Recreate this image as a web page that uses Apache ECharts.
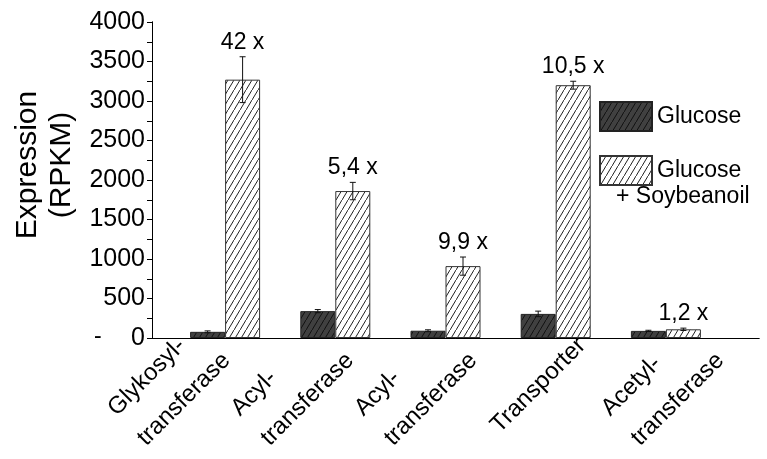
<!DOCTYPE html>
<html>
<head>
<meta charset="utf-8">
<script src="https://cdn.jsdelivr.net/npm/echarts@6/dist/echarts.min.js"></script>
<style>
  html, body { margin: 0; padding: 0; background: #fff; }
  #chart { width: 767px; height: 459px; }
</style>
</head>
<body>
<div id="chart"></div>
<script>
// data
var categories = ['Glykosyl-\ntransferase', 'Acyl-\ntransferase', 'Acyl-\ntransferase', 'Transporter', 'Acetyl-\ntransferase'];
var glucose = [78, 340, 92, 305, 90];
var glucoseErr = [12, 20, 12, 35, 8];
var soybean = [3270, 1860, 910, 3200, 110];
var soybeanErr = [290, 110, 115, 50, 15];
var foldLabels = ['42 x', '5,4 x', '9,9 x', '10,5 x', '1,2 x'];
var yMin = 0, yMax = 4000, yStep = 500;

var GLU = 'Glucose';
var SOY = 'Glucose + Soybeanoil';
var FONT = "'Liberation Sans', Arial, sans-serif";
var BAR_W = 35;
var LABEL_ROT = 45 * Math.PI / 180;
var LABEL_SIZE = 24, LABEL_LH = 42;

// diagonal hatch fill
function hatch(bg, fg) {
  var c = document.createElement('canvas');
  c.width = 6; c.height = 10;
  var ctx = c.getContext('2d');
  ctx.fillStyle = bg;
  ctx.fillRect(0, 0, 6, 10);
  ctx.strokeStyle = fg;
  ctx.lineWidth = 1;
  ctx.beginPath();
  ctx.moveTo(-1, 10 + 10 / 6);
  ctx.lineTo(7, -10 / 6);
  ctx.stroke();
  return c;
}

function errorSeries(name, values, errs, side) {
  return {
    type: 'custom',
    name: name + ' err',
    xAxisIndex: 2,
    yAxisIndex: 2,
    z: 5,
    silent: true,
    data: values.map(function (v, i) { return [i, v, errs[i]]; }),
    renderItem: function (params, api) {
      var i = api.value(0), v = api.value(1), e = api.value(2);
      var hi = api.coord([i, v + e]);
      var lo = api.coord([i, v - e]);
      var x = hi[0] + side * BAR_W / 2;
      var ls = { stroke: '#111', lineWidth: 1 };
      var kids = [
        { type: 'line', shape: { x1: x, y1: hi[1], x2: x, y2: lo[1] }, style: ls },
        { type: 'line', shape: { x1: x - 3, y1: hi[1], x2: x + 3, y2: hi[1] }, style: ls },
        { type: 'line', shape: { x1: x - 3, y1: lo[1], x2: x + 3, y2: lo[1] }, style: ls }
      ];
      if (side > 0) {
        kids.push({
          type: 'text',
          style: {
            text: foldLabels[params.dataIndex],
            x: x, y: hi[1] - 3,
            align: 'center', verticalAlign: 'bottom',
            fontSize: 23, fontFamily: FONT, fill: '#000'
          }
        });
      }
      return { type: 'group', children: kids };
    }
  };
}

var chart = echarts.init(document.getElementById('chart'));

var frameAxis = {
  gridIndex: 0, type: 'value', min: 0, max: 1,
  axisLine: { show: true, lineStyle: { color: '#000', width: 1 } },
  axisTick: { show: false }, axisLabel: { show: false }, splitLine: { show: false }
};

chart.setOption({
  animation: false,
  textStyle: { fontFamily: FONT },
  grid: [
    { left: 152, right: 8, top: 22, bottom: 121 },   // frame
    { left: 170, right: 46, top: 22, bottom: 121 },  // bars
    { left: 150, right: -55, top: 22, bottom: 121 }  // category label slots
  ],
  xAxis: [
    Object.assign({}, frameAxis, { position: 'bottom' }),
    Object.assign({}, frameAxis, { position: 'top' }),
    { gridIndex: 1, type: 'category', data: categories, show: false },
    { gridIndex: 2, type: 'category', data: categories, show: false }
  ],
  yAxis: [
    {
      gridIndex: 0, type: 'value', min: yMin, max: yMax, interval: yStep,
      axisLine: { show: true, lineStyle: { color: '#000' } },
      axisTick: { show: true, length: 5, lineStyle: { color: '#000' } },
      minorTick: { show: true, splitNumber: 2, length: 3, lineStyle: { color: '#000' } },
      splitLine: { show: false },
      axisLabel: { fontSize: 25, color: '#000', margin: 7, formatter: function (v) { return String(v); } },
      name: 'Expression\n(RPKM)',
      nameLocation: 'middle',
      nameGap: 67,
      nameTextStyle: { fontSize: 30, lineHeight: 34, color: '#000', padding: [0, 0, 0, 30] }
    },
    {
      gridIndex: 0, type: 'value', position: 'right', min: yMin, max: yMax, interval: yStep / 2,
      axisLine: { show: true, lineStyle: { color: '#000' } },
      axisTick: { show: true, inside: true, length: 5, lineStyle: { color: '#000' } },
      axisLabel: { show: false }, splitLine: { show: false }
    },
    { gridIndex: 1, type: 'value', min: yMin, max: yMax, show: false },
    { gridIndex: 2, type: 'value', min: yMin, max: yMax, show: false }
  ],
  legend: {
    data: [GLU, SOY],
    orient: 'vertical',
    left: 594, top: 96,
    icon: 'rect',
    itemWidth: 52, itemHeight: 29, itemGap: 23,
    selectedMode: false,
    textStyle: { fontSize: 23, color: '#000', fontFamily: FONT },
    formatter: function (n) { return n === SOY ? 'Glucose' : n; }
  },
  series: [
    {
      type: 'bar', name: GLU, xAxisIndex: 2, yAxisIndex: 2, data: glucose,
      barWidth: BAR_W, barGap: '0%',
      itemStyle: { color: { image: hatch('#404040', '#111'), repeat: 'repeat' }, borderColor: '#222', borderWidth: 1 }
    },
    {
      type: 'bar', name: SOY, xAxisIndex: 2, yAxisIndex: 2, data: soybean,
      barWidth: BAR_W, barGap: '0%',
      itemStyle: { color: { image: hatch('#ffffff', '#222'), repeat: 'repeat' }, borderColor: '#333', borderWidth: 1 }
    },
    errorSeries(GLU, glucose, glucoseErr, -1),
    errorSeries(SOY, soybean, soybeanErr, 1)
  ]
});

// rotated category labels: one group per category, lines left-aligned,
// block right end sitting on the label slot of the category axis
var measureCtx = document.createElement('canvas').getContext('2d');
measureCtx.font = LABEL_SIZE + 'px ' + FONT;
var baseY = chart.convertToPixel({ yAxisIndex: 3 }, 0) + 4;
var catLabels = categories.map(function (c, i) {
  var lines = c.split('\n');
  var blockW = Math.max.apply(null, lines.map(function (s) { return measureCtx.measureText(s).width; }));
  return {
    type: 'group',
    x: chart.convertToPixel({ xAxisIndex: 3 }, i),
    y: baseY,
    rotation: LABEL_ROT,
    children: lines.map(function (s, k) {
      return {
        type: 'text',
        x: -blockW,
        y: (k - (lines.length - 1) / 2) * LABEL_LH,
        style: { text: s, align: 'left', verticalAlign: 'middle', fontSize: LABEL_SIZE, fontFamily: FONT, fill: '#000' }
      };
    })
  };
});

chart.setOption({
  graphic: [
    { type: 'text', left: 616, top: 185, style: { text: '+ Soybeanoil', fontSize: 23, fontFamily: FONT, fill: '#000' } },
    { type: 'text', left: 94, top: 325, style: { text: '-', fontSize: 23, fontFamily: FONT, fill: '#000' } }
  ].concat(catLabels)
});

window.addEventListener('resize', function () { chart.resize(); });
</script>
</body>
</html>
